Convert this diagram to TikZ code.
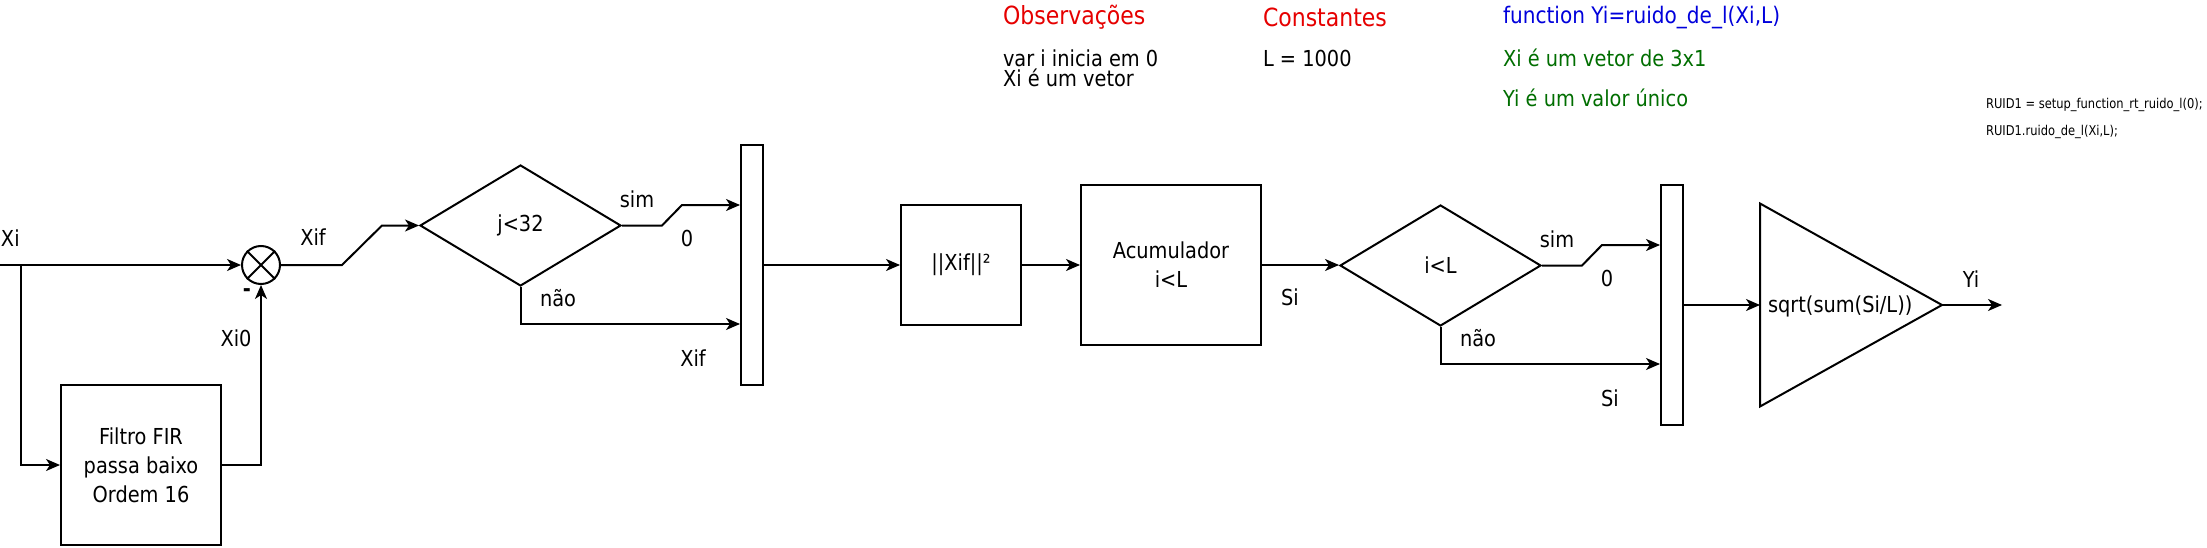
\documentclass[tikz,border=0pt]{standalone}
\usepackage{fontspec}
\setmainfont{DejaVu Sans}[FakeStretch=0.88]
\newfontfamily\codefont{DejaVu Sans}[FakeStretch=0.85]
\usetikzlibrary{shapes.geometric,arrows.meta}
\definecolor{obsred}{RGB}{230,0,0}
\definecolor{fnblue}{RGB}{0,0,220}
\definecolor{notegreen}{RGB}{0,110,0}
\begin{document}
\begin{tikzpicture}[x=1pt,y=-1pt,line width=2pt,
  lbl/.style={font=\fontsize{22}{28}\selectfont, inner sep=0pt},
  head/.style={font=\fontsize{25}{30}\selectfont, inner sep=0pt, anchor=west, text=obsred},
  note/.style={font=\fontsize{22}{28}\selectfont, inner sep=0pt, anchor=west},
  code/.style={font=\codefont\fontsize{13.5}{16}\selectfont, inner sep=0pt, anchor=west},
  block/.style={draw, rectangle, inner sep=0pt, align=center, font=\fontsize{22}{29}\selectfont},
  bar/.style={draw, rectangle, inner sep=0pt, minimum width=22pt, minimum height=240pt},
  decision/.style={draw, diamond, inner sep=0pt, minimum width=201pt, minimum height=121pt, font=\fontsize{22}{28}\selectfont},
  arr/.style={-{Stealth[length=14pt,width=12pt,inset=4pt]}}
]
\useasboundingbox (0,0) rectangle (2207,548);
\fill[white] (0,0) rectangle (2207,548);

% top texts
\node[head] (obs) at (1002,17) {Observações};
\node[note] (obs1) at (1002,58) {var i inicia em 0};
\node[note] (obs2) at (1002,78) {Xi é um vetor};
\node[head] (const) at (1262,17) {Constantes};
\node[note] (const1) at (1262,58) {L = 1000};
\node[note, text=fnblue, font=\fontsize{22.8}{28}\selectfont] (fn) at (1502,18) {function Yi=ruido\_de\_l(Xi,L)};
\node[note, text=notegreen] (fn1) at (1502,58) {Xi é um vetor de 3x1};
\node[note, text=notegreen] (fn2) at (1502,98) {Yi é um valor único};
\node[code] (c1) at (1985,105) {RUID1 = setup\_function\_rt\_ruido\_l(0);};
\node[code] (c2) at (1985,132) {RUID1.ruido\_de\_l(Xi,L);};

% blocks
\node[draw, circle, inner sep=0pt, minimum size=38pt] (sum) at (261,265) {};
\draw[line width=1.8pt] (sum.north east) -- (sum.south west) (sum.north west) -- (sum.south east);
\node[block, minimum width=160pt, minimum height=160pt] (fir) at (141,465) {Filtro FIR\\passa baixo\\Ordem 16};
\node[decision] (d1) at (520.5,225.5) {j<32};
\node[bar] (bar1) at (752,265) {};
\node[block, minimum width=120pt, minimum height=120pt] (sq) at (961,265) {||Xif||²};
\node[block, minimum width=180pt, minimum height=160pt] (acc) at (1171,265) {Acumulador\\i<L};
\node[decision] (d2) at (1440.5,265.5) {i<L};
\node[bar] (bar2) at (1672,305) {};
\node[inner sep=0pt, minimum width=180pt, minimum height=201pt] (tri) at (1851,305) {};
\draw (tri.north west) -- (tri.east) -- (tri.south west) -- cycle;
\node[lbl, anchor=west] (trit) at (1767,306) {sqrt(sum(Si/L))};

% labels
\node[lbl, anchor=west] (lxi) at (0,238) {Xi};
\node[lbl] (lxif) at (313,237) {Xif};
\node[inner sep=0pt, font=\bfseries\fontsize{22}{28}\selectfont] (lminus) at (247,293) {-};
\node[lbl] (lxi0) at (236,338) {Xi0};
\node[lbl] (ls1) at (637,199) {sim};
\node[lbl] (lz1) at (687,238) {0};
\node[lbl] (ln1) at (558,298) {não};
\node[lbl] (lxif2) at (693,358) {Xif};
\node[lbl] (lsi) at (1290,297) {Si};
\node[lbl] (ls2) at (1557,239) {sim};
\node[lbl] (lz2) at (1607,278) {0};
\node[lbl] (ln2) at (1478,338) {não};
\node[lbl] (lsi2) at (1610,398) {Si};
\node[lbl] (lyi) at (1971,279) {Yi};

% connectors
\coordinate (xin) at (0,265);
\coordinate (br) at (21,265);
\draw[arr] (xin) -- (sum.west);
\draw[arr] (br) |- (fir.west);
\draw[arr] (fir.east) -| (sum.south);
\coordinate (k1) at (342,265);
\coordinate (k2) at (382,225.5);
\draw[arr] (sum.east) -- (k1) -- (k2) -- (d1.west);
\coordinate (k3) at (662,225.5);
\coordinate (k4) at (682,205);
\draw[arr] (d1.east) -- (k3) -- (k4) -- (k4 -| bar1.west);
\coordinate (k5) at (520.5,324);
\draw[arr] (d1.south) -- (k5) -- (k5 -| bar1.west);
\draw[arr] (bar1.east) -- (sq.west);
\draw[arr] (sq.east) -- (acc.west);
\draw[arr] (acc.east) -- (acc.east -| d2.west);
\coordinate (m3) at (1582,265.5);
\coordinate (m4) at (1602,245);
\draw[arr] (d2.east) -- (m3) -- (m4) -- (m4 -| bar2.west);
\coordinate (m5) at (1440.5,364);
\draw[arr] (d2.south) -- (m5) -- (m5 -| bar2.west);
\draw[arr] (bar2.east) -- (tri.west);
\coordinate (yout) at (2002,305);
\draw[arr] (tri.east) -- (yout);
\end{tikzpicture}
\end{document}
